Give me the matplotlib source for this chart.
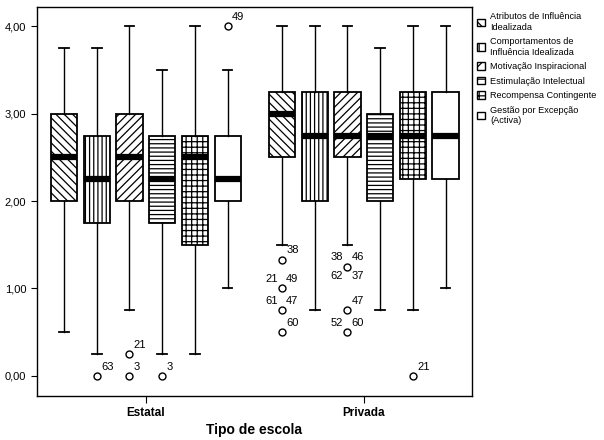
import matplotlib.pyplot as plt
from matplotlib.patches import Patch
from matplotlib.ticker import FuncFormatter

plt.rcParams['font.family'] = ['Liberation Sans', 'DejaVu Sans']

groups = ["Estatal", "Privada"]
series = ["Atributos de Influência\nIdealizada",
          "Comportamentos de\nInfluência Idealizada",
          "Motivação Inspiracional",
          "Estimulação Intelectual",
          "Recompensa Contingente",
          "Gestão por Excepção\n(Activa)"]
hatches = ["\\\\\\\\", "||||", "////", "----", "+++", ""]
legend_hatches = ["\\\\\\", "||", "///", "--", "++", ""]

# whisker low, q1, median, q3, whisker high  (per group, per series)
whislo = [[0.5, 0.25, 0.75, 0.25, 0.25, 1.0],
          [1.5, 0.75, 1.5, 0.75, 0.75, 1.0]]
q1 = [[2.0, 1.75, 2.0, 1.75, 1.5, 2.0],
      [2.5, 2.0, 2.5, 2.0, 2.25, 2.25]]
med = [[2.5, 2.25, 2.5, 2.25, 2.5, 2.25],
       [3.0, 2.75, 2.75, 2.75, 2.75, 2.75]]
q3 = [[3.0, 2.75, 3.0, 2.75, 2.75, 2.75],
      [3.25, 3.25, 3.25, 3.0, 3.25, 3.25]]
whishi = [[3.75, 3.75, 4.0, 3.5, 4.0, 3.5],
          [4.0, 4.0, 4.0, 3.75, 4.0, 4.0]]

# outliers: (value, case labels)
outliers = [
    [[], [(0.0, ["63"])], [(0.25, ["21"]), (0.0, ["3"])], [(0.0, ["3"])], [], [(4.0, ["49"])]],
    [[(1.33, ["38"]), (1.0, ["21", "49"]), (0.75, ["61", "47"]), (0.5, ["60"])],
     [],
     [(1.25, ["38", "46", "62", "37"]), (0.75, ["47"]), (0.5, ["52", "60"])],
     [], [(0.0, ["21"])], []],
]


def main():
    fig = plt.figure(figsize=(6.04, 4.40), dpi=100)
    ax = fig.add_axes([0.061, 0.1, 0.72, 0.884])
    plt.rcParams['hatch.linewidth'] = 0.9

    step = 0.15
    for g in range(len(groups)):
        stats = []
        positions = []
        for i in range(len(series)):
            stats.append({"whislo": whislo[g][i], "q1": q1[g][i], "med": med[g][i],
                          "q3": q3[g][i], "whishi": whishi[g][i], "fliers": []})
            positions.append(g + 1 + (i - 2.5) * step)
        bp = ax.bxp(stats, positions=positions, widths=0.12, capwidths=0.045,
                    patch_artist=True, showfliers=False,
                    boxprops=dict(linewidth=1.3, edgecolor="black"),
                    whiskerprops=dict(linewidth=1.0, color="black"),
                    capprops=dict(linewidth=1.3, color="black"),
                    medianprops=dict(linewidth=4.5, color="black", solid_capstyle="butt"))
        for i, box in enumerate(bp["boxes"]):
            box.set_facecolor("white")
            box.set_hatch(hatches[i])
        # outliers with case numbers
        for i in range(len(series)):
            x = positions[i]
            for value, ids in outliers[g][i]:
                ax.plot(x, value, "o", mfc="white", mec="black", ms=5, mew=1.0, zorder=4)
                if len(ids) == 1:
                    ax.annotate(ids[0], (x, value), xytext=(3, 3), textcoords="offset points",
                                fontsize=8, ha="left", va="bottom")
                else:
                    ax.annotate(ids[0], (x, value), xytext=(-3, 3), textcoords="offset points",
                                fontsize=8, ha="right", va="bottom")
                    ax.annotate(ids[1], (x, value), xytext=(3, 3), textcoords="offset points",
                                fontsize=8, ha="left", va="bottom")
                    if len(ids) == 4:
                        ax.annotate(ids[2], (x, value), xytext=(-3, -3), textcoords="offset points",
                                    fontsize=8, ha="right", va="top")
                        ax.annotate(ids[3], (x, value), xytext=(3, -3), textcoords="offset points",
                                    fontsize=8, ha="left", va="top")

    ax.set_xlim(0.5, 2.495)
    ax.set_ylim(-0.23, 4.22)
    ax.set_xticks([1, 2])
    ax.set_xticklabels(groups, fontsize=8.5, fontweight="bold")
    ax.set_yticks([0, 1, 2, 3, 4])
    ax.yaxis.set_major_formatter(FuncFormatter(lambda v, p: "{:.2f}".format(v).replace(".", ",")))
    ax.tick_params(axis="y", labelsize=8, length=4)
    ax.tick_params(axis="x", length=5, pad=3)
    ax.set_xlabel("Tipo de escola", fontsize=10, fontweight="bold", labelpad=3)
    for s in ax.spines.values():
        s.set_linewidth(1.0)

    handles = [Patch(facecolor="white", edgecolor="black", hatch=legend_hatches[i],
                     linewidth=1.0) for i in range(len(series))]
    fig.legend(handles, series, loc="upper left", bbox_to_anchor=(0.79, 0.972),
               frameon=False, fontsize=6.6, handlelength=0.9, handleheight=0.9,
               handletextpad=0.5, labelspacing=0.6, borderaxespad=0, borderpad=0)

    fig.savefig("out.png", dpi=100)


main()
